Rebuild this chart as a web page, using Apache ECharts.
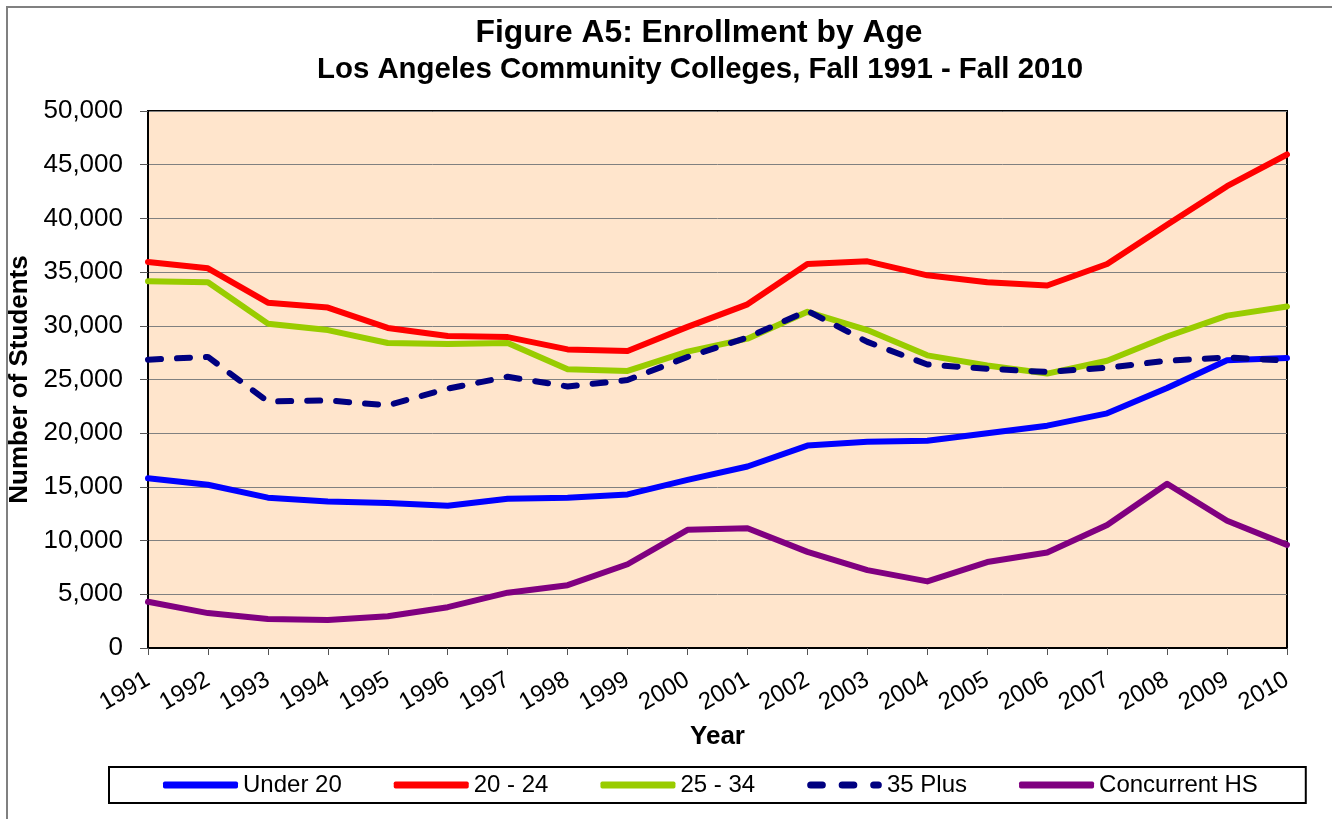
<!DOCTYPE html>
<html>
<head>
<meta charset="utf-8">
<script src="https://cdn.jsdelivr.net/npm/echarts@6/dist/echarts.min.js"></script>
<style>
  html, body { margin: 0; padding: 0; background: #fff; }
  #chart { width: 1332px; height: 819px; }
</style>
</head>
<body>
<div id="chart"></div>
<script>
const years = ['1991','1992','1993','1994','1995','1996','1997','1998','1999','2000','2001','2002','2003','2004','2005','2006','2007','2008','2009','2010'];
const under20 = [15800, 15200, 14000, 13650, 13500, 13250, 13900, 14000, 14300, 15650, 16900, 18850, 19200, 19300, 20000, 20700, 21850, 24200, 26800, 27000];
const age2024 = [35950, 35350, 32150, 31700, 29800, 29050, 28950, 27800, 27650, 29900, 32000, 35750, 36000, 34700, 34050, 33750, 35750, 39400, 43000, 45950];
const age2534 = [34150, 34050, 30200, 29600, 28400, 28300, 28400, 25950, 25800, 27600, 28800, 31300, 29600, 27250, 26300, 25550, 26750, 29000, 30950, 31800];
const plus35 = [26850, 27100, 22950, 23050, 22600, 24150, 25250, 24350, 24950, 27100, 28900, 31400, 28500, 26400, 26000, 25700, 26100, 26750, 27050, 26750];
const concurrentHS = [4300, 3250, 2700, 2600, 2950, 3800, 5150, 5850, 7800, 11000, 11150, 8950, 7250, 6200, 8000, 8900, 11450, 15300, 11850, 9600];
const seriesNames = ['Under 20', '20 - 24', '25 - 34', '35 Plus', 'Concurrent HS'];

const FONT = '"Liberation Sans", Arial, sans-serif';
const chart = echarts.init(document.getElementById('chart'), null, { renderer: 'canvas' });

const BAR_ICON = 'roundRect';
const DASH_ICON = 'path://M3,0 H13 A3,3 0 0 1 13,6 H3 A3,3 0 0 1 3,0 Z M30,0 H40 A3,3 0 0 1 40,6 H30 A3,3 0 0 1 30,0 Z M57,0 H61 A3,3 0 0 1 61,6 H57 A3,3 0 0 1 57,0 Z';

function mk(name, data, color, dashed) {
  return {
    name: name, type: 'line', data: data, symbol: 'none', smooth: false,
    lineStyle: { color: color, width: 6, type: dashed ? [13, 16] : 'solid', cap: 'round', join: 'round' },
    itemStyle: { color: color },
    emphasis: { disabled: true }
  };
}

chart.setOption({
  animation: false,
  backgroundColor: '#ffffff',
  graphic: [{
    type: 'rect', shape: { x: 7, y: 7, width: 1400, height: 900 },
    style: { fill: 'none', stroke: '#808080', lineWidth: 2 }, silent: true, z: -10
  }],
  title: [
    { text: 'Figure A5: Enrollment by Age', left: 694, textAlign: 'center', top: 12,
      textStyle: { fontFamily: FONT, fontSize: 31.8, fontWeight: 'bold', color: '#000' } },
    { text: 'Los Angeles Community Colleges, Fall 1991 - Fall 2010', left: 695, textAlign: 'center', top: 50,
      textStyle: { fontFamily: FONT, fontSize: 29.4, fontWeight: 'bold', color: '#000' } }
  ],
  legend: {
    data: [
      { name: seriesNames[0], icon: BAR_ICON },
      { name: seriesNames[1], icon: BAR_ICON },
      { name: seriesNames[2], icon: BAR_ICON },
      { name: seriesNames[3], icon: DASH_ICON },
      { name: seriesNames[4], icon: BAR_ICON }
    ],
    left: 109, top: 767,
    orient: 'horizontal',
    padding: [6, 48, 6, 54],
    itemGap: 52,
    itemWidth: 75, itemHeight: 7,
    borderColor: '#000', borderWidth: 2,
    textStyle: { fontFamily: FONT, fontSize: 24, color: '#000', lineHeight: 24 }
  },
  grid: {
    left: 148, right: 45, top: 111, bottom: 171,
    show: true, backgroundColor: '#FFE5CC', borderColor: '#000', borderWidth: 2,
    containLabel: false, outerBoundsMode: 'none'
  },
  xAxis: {
    type: 'category', data: years, boundaryGap: false,
    name: 'Year', nameLocation: 'middle', nameGap: 76,
    nameTextStyle: { fontFamily: FONT, fontSize: 26, fontWeight: 'bold', color: '#000' },
    axisLine: { show: true, lineStyle: { color: '#000', width: 2 } },
    axisTick: { show: true, length: 7, lineStyle: { color: '#555', width: 1 } },
    axisLabel: { rotate: 30, margin: 30, fontFamily: FONT, fontSize: 24, color: '#000', interval: 0 },
    splitLine: { show: false }
  },
  yAxis: {
    type: 'value', min: 0, max: 50000, interval: 5000,
    name: 'Number of Students', nameLocation: 'middle', nameGap: 107, nameRotate: 90,
    nameTextStyle: { fontFamily: FONT, fontSize: 26, fontWeight: 'bold', color: '#000' },
    axisLine: { show: true, lineStyle: { color: '#000', width: 2 } },
    axisTick: { show: true, length: 8, lineStyle: { color: '#555', width: 1 } },
    axisLabel: { margin: 25, fontFamily: FONT, fontSize: 26, color: '#000',
      formatter: function (v) { return v.toLocaleString('en-US'); } },
    splitLine: { show: true, lineStyle: { color: '#808080', width: 1 } }
  },
  series: [
    mk(seriesNames[0], under20, '#0000FF', false),
    mk(seriesNames[1], age2024, '#FF0000', false),
    mk(seriesNames[2], age2534, '#99CC00', false),
    mk(seriesNames[3], plus35, '#000080', true),
    mk(seriesNames[4], concurrentHS, '#800080', false)
  ]
});
</script>
</body>
</html>
